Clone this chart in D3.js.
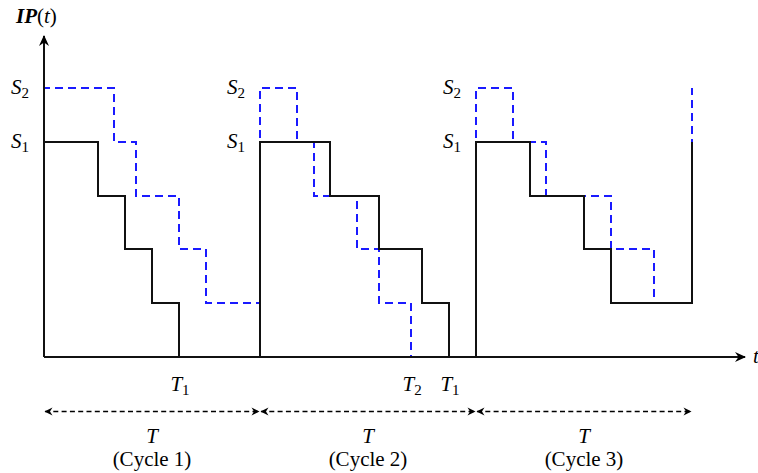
<!DOCTYPE html>
<html>
<head>
<meta charset="utf-8">
<script src="https://cdn.jsdelivr.net/npm/d3@7"></script>
<style>
  body { margin: 0; background: #fff; }
  text { font-family: 'Liberation Serif', serif; fill: #000; }
</style>
</head>
<body>
<div class="chart"></div>
<script>
const width = 758;
const height = 473;

// cycles (time units)
const cycleStarts = [0, 8, 16];
const cycleLength = 8;
const cycleLabels = ['(Cycle 1)', '(Cycle 2)', '(Cycle 3)'];

// solid black step curve
const solidTimes = [0, 0, 2, 3, 4, 5, 8, 10.6, 12.4, 14, 15, 16, 18, 20, 21, 24];
const solidLevels = [0, 4, 3, 2, 1, 0, 4, 3, 2, 1, 0, 4, 3, 2, 1, 4];

// blue dashed step curve
const dashedTimes = [0, 0, 2.6, 3.4, 5, 6, 8, 9.38, 10, 11.58, 12.4, 13.6, 16, 17.38, 18.6, 21, 22.6, 24];
const dashedLevels = [4, 5, 4, 3, 2, 1, 5, 4, 3, 2, 1, 0, 5, 4, 3, 2, 1, 5];

// level labels
const levelValues = [5, 4];
const levelSubs = ['2', '1'];

// time labels under the axis
const timeLabelTimes = [5, 13.6, 15];
const timeLabelSubs = ['1', '2', '1'];

const x = d3.scaleLinear().domain([0, 24]).range([44, 692]);
const y = d3.scaleLinear().domain([0, 5]).range([357, 88]);

const svg = d3
  .select('.chart')
  .append('svg')
  .attr('width', width)
  .attr('height', height);

const defs = svg.append('defs');
defs
  .append('marker')
  .attr('id', 'arrow')
  .attr('viewBox', '-12 -6 14 12')
  .attr('markerUnits', 'userSpaceOnUse')
  .attr('markerWidth', 14)
  .attr('markerHeight', 12)
  .attr('refX', 0)
  .attr('refY', 0)
  .attr('orient', 'auto-start-reverse')
  .append('path')
  .attr('d', 'M1,0 L-10,-5 L-6.5,0 L-10,5 Z')
  .attr('fill', '#000');
defs
  .append('marker')
  .attr('id', 'arrowSmall')
  .attr('viewBox', '-10 -5 12 10')
  .attr('markerUnits', 'userSpaceOnUse')
  .attr('markerWidth', 12)
  .attr('markerHeight', 10)
  .attr('refX', 0)
  .attr('refY', 0)
  .attr('orient', 'auto-start-reverse')
  .append('path')
  .attr('d', 'M0.5,0 L-7.5,-4 L-5,0 L-7.5,4 Z')
  .attr('fill', '#000');

// snap to whole pixels so the solid line fully covers the dashed one where they meet
const stepLine = d3
  .line()
  .x(d => Math.round(x(d[0])))
  .y(d => Math.round(y(d[1])))
  .curve(d3.curveStepAfter);

const solidData = solidTimes.map((t, i) => [t, solidLevels[i]]);
const dashedData = dashedTimes.map((t, i) => [t, dashedLevels[i]]);

svg
  .append('path')
  .attr('d', stepLine(dashedData))
  .attr('fill', 'none')
  .attr('stroke', '#1a1aff')
  .attr('stroke-width', 2)
  .attr('stroke-dasharray', '8,5');

svg
  .append('path')
  .attr('d', stepLine(solidData))
  .attr('fill', 'none')
  .attr('stroke', '#111')
  .attr('stroke-width', 2);

// axes
svg
  .append('line')
  .attr('x1', x(0))
  .attr('y1', y(0))
  .attr('x2', x(0))
  .attr('y2', 36)
  .attr('stroke', '#111')
  .attr('stroke-width', 2)
  .attr('marker-end', 'url(#arrow)');
svg
  .append('line')
  .attr('x1', x(0))
  .attr('y1', y(0))
  .attr('x2', 745)
  .attr('y2', y(0))
  .attr('stroke', '#111')
  .attr('stroke-width', 2)
  .attr('marker-end', 'url(#arrow)');

// axis titles
const yTitle = svg.append('text').attr('x', 16).attr('y', 23).style('font-size', '21px');
yTitle.append('tspan').text('IP').style('font-weight', 'bold').style('font-style', 'italic');
yTitle.append('tspan').text('(');
yTitle.append('tspan').text('t').style('font-style', 'italic');
yTitle.append('tspan').text(')');

svg
  .append('text')
  .attr('x', 753)
  .attr('y', 363)
  .style('font-size', '21px')
  .style('font-style', 'italic')
  .text('t');

// S labels at each cycle start
cycleStarts.forEach(c => {
  levelValues.forEach((v, i) => {
    const t = svg
      .append('text')
      .attr('x', x(c) - 15)
      .attr('y', y(v) + 6)
      .attr('text-anchor', 'end')
      .style('font-size', '21px');
    t.append('tspan').text('S').style('font-style', 'italic');
    t.append('tspan').text(levelSubs[i]).attr('dy', 4).style('font-size', '15px');
  });
});

// T labels
timeLabelTimes.forEach((tm, i) => {
  const t = svg
    .append('text')
    .attr('x', x(tm) + 1)
    .attr('y', 391)
    .attr('text-anchor', 'middle')
    .style('font-size', '21px');
  t.append('tspan').text('T').style('font-style', 'italic');
  t.append('tspan').text(timeLabelSubs[i]).attr('dy', 4).style('font-size', '15px');
});

// cycle spans
cycleStarts.forEach((c, i) => {
  svg
    .append('line')
    .attr('x1', x(c) + 1)
    .attr('y1', 411.5)
    .attr('x2', x(c + cycleLength) - 1)
    .attr('y2', 411.5)
    .attr('stroke', '#000')
    .attr('stroke-width', 1.4)
    .attr('stroke-dasharray', '5,3.3')
    .attr('marker-start', 'url(#arrowSmall)')
    .attr('marker-end', 'url(#arrowSmall)');
  const mid = x(c + cycleLength / 2);
  svg
    .append('text')
    .attr('x', mid)
    .attr('y', 443)
    .attr('text-anchor', 'middle')
    .style('font-size', '21px')
    .style('font-style', 'italic')
    .text('T');
  svg
    .append('text')
    .attr('x', mid)
    .attr('y', 466)
    .attr('text-anchor', 'middle')
    .style('font-size', '21px')
    .text(cycleLabels[i]);
});
</script>
</body>
</html>
